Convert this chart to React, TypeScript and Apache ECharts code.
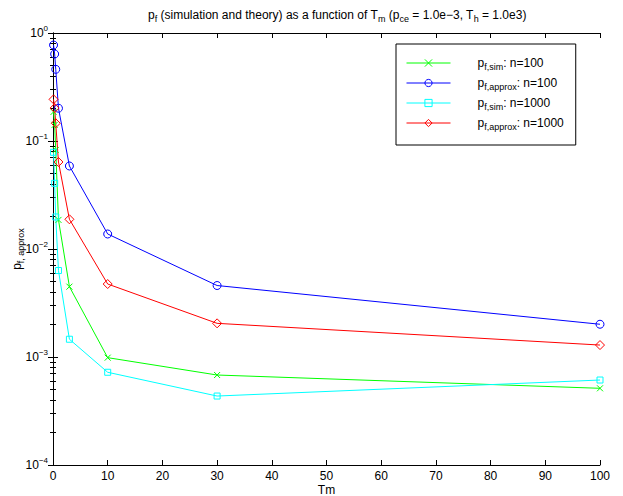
import React, { useEffect, useRef } from "react";
import * as echarts from "echarts";

const xValues = [0.1, 0.3, 0.5, 1, 3, 10, 30, 100];
const simN100 = [0.186, 0.141, 0.0826, 0.0186, 0.00448, 0.000986, 0.000681, 0.000513];
const approxN100 = [0.774, 0.639, 0.461, 0.201, 0.0587, 0.01377, 0.00459, 0.00201];
const simN1000 = [0.0786, 0.0406, 0.0198, 0.00632, 0.00146, 0.000722, 0.000435, 0.000612];
const approxN1000 = [0.243, 0.202, 0.146, 0.0639, 0.01884, 0.00474, 0.00205, 0.00129];
const xTicks = [0, 10, 20, 30, 40, 50, 60, 70, 80, 90, 100];

const seriesNames = ["simN100", "approxN100", "simN1000", "approxN1000"];
const legendTexts: Record<string, string> = {
  simN100: "{sp|}{p|p}{sub|f,sim}{t|: n=100}",
  approxN100: "{sp|}{p|p}{sub|f,approx}{t|: n=100}",
  simN1000: "{sp|}{p|p}{sub|f,sim}{t|: n=1000}",
  approxN1000: "{sp|}{p|p}{sub|f,approx}{t|: n=1000}",
};

const FONT = "Liberation Sans, Arial, Helvetica, sans-serif";

function pairs(ys: number[]) {
  return xValues.map((x, i) => [x, ys[i]]);
}

export default function App() {
  const ref = useRef<HTMLDivElement>(null);
  useEffect(() => {
    if (!ref.current) return;
    const chart = echarts.init(ref.current, undefined, { renderer: "svg" });
    const sub = { fontSize: 9, fontFamily: FONT, fontWeight: "normal", color: "#000", verticalAlign: "bottom", lineHeight: 9 };
    const base = { fontSize: 12, fontFamily: FONT, fontWeight: "normal", color: "#000", lineHeight: 16 };
    const crossPath = "path://M0,0L10,10M10,0L0,10";
    const mkSeries = (name: string, data: number[], color: string, symbol: string, size: number) => ({
      name,
      type: "line",
      xAxisIndex: 0,
      yAxisIndex: 0,
      data: pairs(data),
      symbol,
      symbolSize: size,
      showSymbol: true,
      lineStyle: { color, width: 1 },
      itemStyle: { color: "transparent", borderColor: color, borderWidth: 1 },
      emphasis: { disabled: true },
    });
    const logLabel = (v: number) => {
      const e = Math.round(Math.log10(v));
      return `{b|10}{s|${e < 0 ? "\u2212" + -e : e}}`;
    };
    chart.setOption({
      animation: false,
      backgroundColor: "#fff",
      textStyle: { fontFamily: FONT },
      title: {
        text:
          "{a|p}{sub|f}{a| (simulation and theory) as a function of T}{sub|m}{a| (p}{sub|ce}{a| = 1.0e\u22123, T}{sub|h}{a| = 1.0e3)}",
        left: 143,
        top: 2,
        textStyle: { fontWeight: "normal", rich: { a: base, sub } },
      },
      grid: { left: 53, right: 23, top: 33, bottom: 31, containLabel: false, outerBoundsMode: "none" },
      legend: {
        orient: "vertical",
        left: 396,
        top: 44,
        data: seriesNames,
        itemWidth: 44,
        itemHeight: 9,
        itemGap: 6,
        padding: [13, 12, 14, 10],
        borderColor: "#000",
        borderWidth: 1,
        borderRadius: 0,
        backgroundColor: "#fff",
        lineStyle: { width: 1 },
        itemStyle: { borderWidth: 1 },
        formatter: (n: string) => legendTexts[n],
        textStyle: {
          rich: {
            sp: { width: 22 },
            p: { ...base },
            t: { ...base },
            sub: { ...sub },
          },
        },
      },
      xAxis: [
        {
          type: "value",
          min: 0,
          max: 100,
          interval: 10,
          name: "Tm",
          nameLocation: "middle",
          nameGap: 18,
          nameMoveOverlap: false,
          nameTextStyle: { fontSize: 12, color: "#000", fontFamily: FONT, lineHeight: 13, verticalAlign: "top" },
          axisLine: { lineStyle: { color: "#000", width: 1 } },
          axisTick: { inside: true, length: 5, lineStyle: { color: "#000" } },
          axisLabel: {
            color: "#000",
            fontSize: 12,
            margin: 5,
            fontFamily: FONT,
            formatter: (v: number) => (xTicks.includes(v) ? String(v) : ""),
          },
          splitLine: { show: false },
        },
        {
          type: "value",
          position: "top",
          min: 0,
          max: 100,
          interval: 10,
          axisLine: { lineStyle: { color: "#000", width: 1 } },
          axisTick: { inside: true, length: 5, lineStyle: { color: "#000" } },
          axisLabel: { show: false },
          splitLine: { show: false },
        },
      ],
      yAxis: [
        {
          type: "log",
          logBase: 10,
          min: 1e-4,
          max: 1,
          name: "{p|p}{sub|f, approx}",
          nameLocation: "middle",
          nameRotate: 90,
          nameGap: 28,
          nameMoveOverlap: false,
          nameTextStyle: { rich: { p: { ...base }, sub } },
          axisLine: { lineStyle: { color: "#000", width: 1 } },
          axisTick: { inside: true, length: 5, lineStyle: { color: "#000" } },
          minorTick: { show: true, splitNumber: 9, length: 3, lineStyle: { color: "#000" } },
          axisLabel: {
            margin: 5,
            formatter: logLabel,
            rich: {
              b: { fontSize: 12, fontFamily: FONT, color: "#000", lineHeight: 18 },
              s: { fontSize: 8, fontFamily: FONT, color: "#000", verticalAlign: "top", lineHeight: 8 },
            },
          },
          splitLine: { show: false },
          minorSplitLine: { show: false },
        },
        {
          type: "log",
          logBase: 10,
          min: 1e-4,
          max: 1,
          position: "right",
          axisLine: { lineStyle: { color: "#000", width: 1 } },
          axisTick: { inside: true, length: 5, lineStyle: { color: "#000" } },
          minorTick: { show: true, splitNumber: 9, length: 3, lineStyle: { color: "#000" } },
          axisLabel: { show: false },
          splitLine: { show: false },
          minorSplitLine: { show: false },
        },
      ],
      series: [
        mkSeries("simN100", simN100, "#00ff00", crossPath, 6),
        mkSeries("approxN100", approxN100, "#0000ff", "circle", 8),
        mkSeries("simN1000", simN1000, "#00ffff", "rect", 6),
        mkSeries("approxN1000", approxN1000, "#ff0000", "diamond", 9),
      ],
    });
    return () => chart.dispose();
  }, []);
  return (
    <div
      ref={ref}
      style={{ position: "fixed", left: 0, top: 0, width: 623, height: 496, background: "#fff" }}
    />
  );
}
